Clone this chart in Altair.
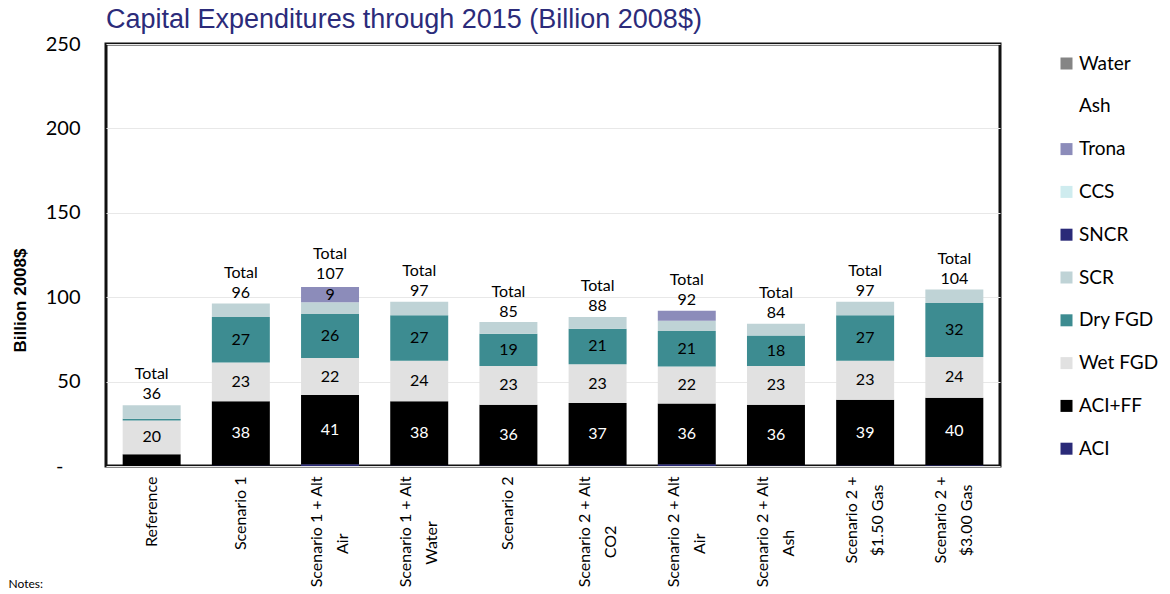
import altair as alt
import pandas as pd

# scenario names: first line / second line
scen_line1 = ["Reference", "Scenario 1", "Scenario 1 + Alt", "Scenario 1 + Alt",
              "Scenario 2", "Scenario 2 + Alt", "Scenario 2 + Alt", "Scenario 2 + Alt",
              "Scenario 2 +", "Scenario 2 +"]
scen_line2 = ["", "", "Air", "Water", "", "CO2", "Air", "Ash", "$1.50 Gas", "$3.00 Gas"]

# stacking order bottom -> top
components = ["ACI", "ACI+FF", "Wet FGD", "Dry FGD", "SCR", "SNCR", "CCS", "Trona", "Ash", "Water"]
aci     = [0, 0.3, 1, 0.3, 0.3, 0.3, 1, 0.3, 0.3, 0.5]
aci_ff  = [7, 38, 41, 38, 36, 37, 36, 36, 39, 40]
wet_fgd = [20, 23, 22, 24, 23, 23, 22, 23, 23, 24]
dry_fgd = [1, 27, 26, 27, 19, 21, 21, 18, 27, 32]
scr     = [8, 8, 7, 8, 7, 7, 6, 7, 8, 8]
sncr    = [0, 0, 0, 0, 0, 0, 0, 0, 0, 0]
ccs     = [0, 0, 0, 0, 0, 0, 0, 0, 0, 0]
trona   = [0, 0, 9, 0, 0, 0, 6, 0, 0, 0]
ash     = [0, 0, 0, 0, 0, 0, 0, 0, 0, 0]
water   = [0, 0, 0, 0, 0, 0, 0, 0, 0, 0]
totals  = [36, 96, 107, 97, 85, 88, 92, 84, 97, 104]

legend_order = ["Water", "Ash", "Trona", "CCS", "SNCR", "SCR", "Dry FGD", "Wet FGD", "ACI+FF", "ACI"]
legend_colors = ["#858585", "#FFFFFF", "#8C8CBA", "#CFECEF", "#2A2A78", "#BFD3D6", "#3D8C91", "#E1E1E1", "#000000", "#2A2A78"]


# rough text width (Lato 16px) so the second label line can be centred under the first
def _w(s):
    t = 0.0
    for ch in s:
        if ch == " ":
            t += 3.1
        elif ch in "il.":
            t += 3.6
        elif ch in "rt":
            t += 5.5
        elif ch.isdigit() or ch in "+$":
            t += 9.3
        elif ch == "W":
            t += 14.5
        elif ch.isupper():
            t += 10.8
        else:
            t += 7.8
    return t


scenarios = []
for a, b in zip(scen_line1, scen_line2):
    if b:
        pad = max(0, round((_w(a) - _w(b)) / 2 / 3.1))
        # trailing no-break spaces, closed by a zero-width space so they are not trimmed
        scenarios.append(a + "\n" + b + "\u00a0" * pad + "\u200b")
    else:
        scenarios.append(a)

series = [aci, aci_ff, wet_fgd, dry_fgd, scr, sncr, ccs, trona, ash, water]
rows = []
for ci, (comp, vals) in enumerate(zip(components, series)):
    for si, s in enumerate(scenarios):
        rows.append({"scenario": s, "component": comp, "value": vals[si], "order": ci})
df = pd.DataFrame(rows)
tot_df = pd.DataFrame({"scenario": scenarios, "total": totals,
                       "label": [f"Total\n{t}" for t in totals]})

x_enc = alt.X(
    "scenario:N", sort=scenarios,
    scale=alt.Scale(paddingInner=0.35, paddingOuter=0.187),
    axis=alt.Axis(
        title="Notes:", titleX=-98, titleY=117, titleAngle=0, titleAlign="left",
        titleBaseline="middle", titleFont="Lato", titleFontSize=12, titleFontWeight="normal",
        labelAngle=-90, labelAlign="right", labelBaseline="middle",
        labelExpr="split(datum.label, '\\n')", labelFont="Lato", labelFontSize=16,
        labelLineHeight=26, labelPadding=10, labelColor="black",
        labelOffset={"condition": {"test": "indexof(datum.value, '\\n') >= 0", "value": -13}, "value": 0},
        ticks=False, domain=False, labelOverlap=False,
    ),
)
y_scale = alt.Scale(domain=[0, 250])
y_axis = alt.Axis(
    values=[0, 50, 100, 150, 200, 250], grid=True, gridColor="#E8E8E8",
    labelExpr="datum.value == 0 ? '-' : datum.label",
    labelFont="Lato", labelFontSize=20, labelColor="black",
    labelPadding={"condition": {"test": "datum.value == 0", "value": 43}, "value": 26},
    ticks=False, tickSize=0, domain=False,
    title="Billion 2008$", titleFont="Liberation Sans", titleFontSize=17,
    titleFontWeight="bold", titleColor="black", titleX=-86, titleY=256,
    titleAngle=270, titleAlign="center", titleBaseline="middle",
)

base = alt.Chart(df).transform_stack(
    stack="value", groupby=["scenario"], as_=["y0", "y1"],
    sort=[alt.SortField("order", order="ascending")],
).transform_calculate(mid="(datum.y0 + datum.y1) / 2")

bars = base.mark_bar().encode(
    x=x_enc,
    y=alt.Y("y0:Q", scale=y_scale, axis=y_axis),
    y2="y1:Q",
    color=alt.Color(
        "component:N", scale=alt.Scale(domain=legend_order, range=legend_colors),
        legend=alt.Legend(
            title=None, orient="none", legendX=951, legendY=10,
            symbolType="square", symbolSize=144, symbolStrokeWidth=0,
            labelFont="Lato", labelFontSize=19, labelColor="black",
            labelOffset=3, rowPadding=22.8,
        ),
    ),
)

seg_labels = base.transform_filter("datum.value >= 9").mark_text(
    font="Lato", fontSize=16, baseline="middle", align="center"
).encode(
    x=alt.X("scenario:N", sort=scenarios),
    y=alt.Y("mid:Q", scale=y_scale),
    text=alt.Text("value:Q", format="d"),
    color=alt.condition("datum.component == 'ACI+FF'", alt.value("white"), alt.value("black")),
)

tot_labels = alt.Chart(tot_df).mark_text(
    font="Lato", fontSize=16, baseline="bottom", align="center",
    lineBreak="\n", lineHeight=20, dy=-23, color="black",
).encode(
    x=alt.X("scenario:N", sort=scenarios),
    y=alt.Y("total:Q", scale=y_scale),
    text="label:N",
)

chart = alt.layer(bars, seg_labels, tot_labels).properties(
    width=894, height=422,
    title=alt.TitleParams(
        "Capital Expenditures through 2015 (Billion 2008$)", anchor="start", frame="group",
        font="Liberation Sans", fontSize=27, fontWeight="normal", color="#2B2B7A",
        offset=0,
    ),
    autosize=alt.AutoSizeParams(type="none"),
    padding={"left": 98, "top": 36, "right": 162, "bottom": 128},
).configure_view(stroke="#111111", strokeWidth=3)

chart.save("out.html", embed_options={"renderer": "svg", "actions": False})
